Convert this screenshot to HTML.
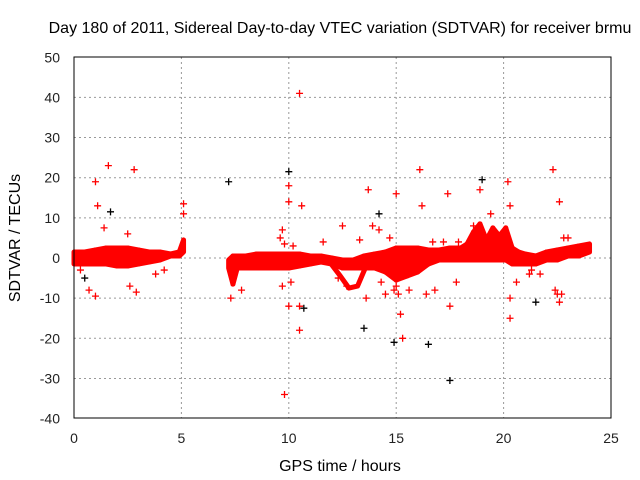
<!DOCTYPE html>
<html><head><meta charset="utf-8"><style>
body{margin:0;background:#fff}
svg{display:block;font-family:"Liberation Sans",sans-serif}
</style></head><body>
<svg id="chart" width="640" height="480">
<text x="340" y="33" font-size="16" text-anchor="middle" fill="#000">Day 180 of 2011, Sidereal Day-to-day VTEC variation (SDTVAR) for receiver brmu</text>
<text x="340" y="471" font-size="16" text-anchor="middle">GPS time / hours</text>
<text x="20" y="238" font-size="16" text-anchor="middle" transform="rotate(-90 20 238)">SDTVAR / TECUs</text>
<g id="grid"></g>
<g id="ticks"></g>
<g id="marks"></g>
<rect x="74" y="57" width="537" height="361" fill="none" stroke="#000" stroke-width="1"/>
</svg>
<script>
const xTicks=[0,5,10,15,20,25];
const yTicks=[50,40,30,20,10,0,-10,-20,-30,-40];
// dense band envelope (hours, low, high)
const bandX=[0,0.5,1,1.5,2,2.5,3,3.5,4,4.5,4.9,5.1,7.2,7.4,7.6,8,8.5,9,9.5,10,10.5,11,11.5,12,12.5,13,13.5,14,14.5,15,15.5,16,16.5,17,17.5,18,18.3,18.6,18.9,19.2,19.5,19.8,20.1,20.4,20.7,21,21.5,22,22.5,23,23.5,24];
const bandLo=[-2,-2,-2,-2,-2.5,-2.5,-2,-1.5,-1,0,0,1,-3,-7,-3,-3,-3,-3,-3,-3,-2.5,-2,-1.5,-2,-3,-3,-3,-3,-4,-6,-5,-4,-2,-1,-1,-1,-1,-1,-1,-1,-1,-1,-1,-2,-2,-2,-2,-1,-1,0,0,1];
const bandHi=[2,2,2.5,3,3,3,2.5,2,2,1.5,2,5,0,1,1,1,1.5,1.5,1.5,1.5,1.5,1,1,0.5,0,0,1,1.5,2,3,3,3,2.5,2.5,3,3,4,7,9,5,8,6,8,3,2,1.5,1,2,2.5,3,3.5,4];
// thin excursion loop around 12-13.6 h
const loopX=[11.9,12.4,12.8,13.2,13.6];
const loopY=[-1,-4.5,-7.5,-7,-2];
const redX=[1.0,1.1,1.6,2.8,0.7,1.0,2.6,2.9,5.1,5.1,7.3,7.8,9.8,10,10,10,10.5,10.6,10.5,10.5,12.5,12.7,13.7,13.9,13.6,14.7,15,15,15.2,15.3,16.1,16.2,16.4,17.4,17.5,18.9,20.2,20.3,20.3,20.3,22.3,22.6,22.5,22.6,23,1.4,2.5,9.6,9.8,9.7,10.1,11.6,12.3,13.3,14.2,14.5,14.9,15.6,16.8,17.2,17.8,19.4,20.6,21.3,21.7,22.4,22.7,9.7,10.2,14.3,15.1,16.7,17.9,18.6,19.9,21.2,22.8,3.8,4.2,0.3];
const redY=[19,13,23,22,-8,-9.5,-7,-8.5,13.5,11,-10,-8,-34,18,-12,14,41,13,-18,-12,8,-7,17,8,-10,5,16,-7,-14,-20,22,13,-9,16,-12,17,19,13,-10,-15,22,14,-9,-11,5,7.5,6,5,3.5,-7,-6,4,-5,4.5,7,-9,-8,-8,-8,4,-6,11,-6,-3,-4,-8,-9,7,3,-6,-9,4,4,8,6,-4,5,-4,-3,-3];
const blackX=[7.2,10,10.7,13.5,14.2,14.9,16.5,17.5,21.5,1.7,0.5,19];
const blackY=[19,21.5,-12.5,-17.5,11,-21,-21.5,-30.5,-11,11.5,-5,19.5];
const X=v=>74+v*537/25, Y=v=>258-v*4.015;
const NS='http://www.w3.org/2000/svg';
const g=document.getElementById('grid'),t=document.getElementById('ticks'),m=document.getElementById('marks');
function el(n,a,p){const e=document.createElementNS(NS,n);for(const k in a)e.setAttribute(k,a[k]);p.appendChild(e);return e;}
xTicks.forEach(v=>{
 if(v>0&&v<25){const l=el('line',{x1:X(v),x2:X(v),y1:57,y2:418,stroke:'#999','stroke-dasharray':'2,3'},g);
 
 }
 const tx=el('text',{x:X(v),y:443,'font-size':14,'text-anchor':'middle',fill:'#222'},t);tx.textContent=v;
 
 
});
yTicks.forEach(v=>{
 if(v<50&&v>-40){const l=el('line',{x1:74,x2:611,y1:Y(v),y2:Y(v),stroke:'#999','stroke-dasharray':'2,3'},g);
 
 }
 const tx=el('text',{x:60,y:Y(v)+5,'font-size':14,'text-anchor':'end',fill:'#222'},t);tx.textContent=v;
 
 
});
function plus(x,y,c){const p=el('path',{d:`M${x-3.5},${y}h7M${x},${y-3.5}v7`,stroke:c,'stroke-width':1.3},m);
 
 }
for(let i=0;i<bandX.length-1;i++){
 if(bandX[i+1]-bandX[i]>1)continue;
 const pts=[[X(bandX[i]),Y(bandHi[i])+2],[X(bandX[i+1]),Y(bandHi[i+1])+2],[X(bandX[i+1]),Y(bandLo[i+1])-2],[X(bandX[i]),Y(bandLo[i])-2]];
 const p=el('polygon',{points:pts.map(q=>q.join(',')).join(' '),fill:'#f00',stroke:'#f00','stroke-width':5,'stroke-linejoin':'round'},m);
 
 
}
const lp=el('polyline',{points:loopX.map((x,i)=>X(x)+','+Y(loopY[i])).join(' '),fill:'none',stroke:'#f00','stroke-width':5,'stroke-linejoin':'round'},m);


redX.forEach((x,i)=>plus(X(x),Y(redY[i]),'#f00'));
blackX.forEach((x,i)=>plus(X(x),Y(blackY[i]),'#000'));
</script>
</body></html>
